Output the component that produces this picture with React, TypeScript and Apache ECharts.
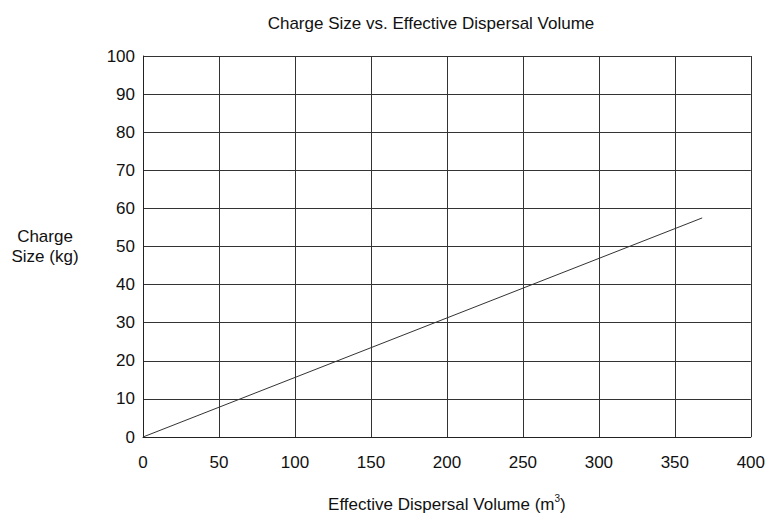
import React, { useEffect, useRef } from "react";
import * as echarts from "echarts";

const xTicks = [0, 50, 100, 150, 200, 250, 300, 350, 400];
const yTicks = [0, 10, 20, 30, 40, 50, 60, 70, 80, 90, 100];
const volume = [0, 368];
const charge = [0, 57.5];

const FONT = "'Liberation Sans Narrow', 'Liberation Sans', Arial, sans-serif";

export default function App() {
  const ref = useRef<HTMLDivElement>(null);
  useEffect(() => {
    const chart = echarts.init(ref.current!, null, { renderer: "svg" });
    chart.setOption({
      animation: false,
      backgroundColor: "#fff",
      title: {
        text: "Charge Size vs. Effective Dispersal Volume",
        left: 426,
        top: 10,
        textAlign: "center",
        textStyle: { fontFamily: FONT, fontWeight: "normal", fontSize: 17, color: "#111" },
      },
      grid: { left: 143, right: 13, top: 56, bottom: 78 },
      xAxis: {
        type: "value",
        min: xTicks[0],
        max: xTicks[xTicks.length - 1],
        interval: 50,
        axisLine: { show: true, lineStyle: { color: "#222", width: 1 } },
        axisTick: { show: false },
        axisLabel: { margin: 17, fontFamily: FONT, fontSize: 17, color: "#111" },
        splitLine: { show: true, lineStyle: { color: "#333", width: 1 } },
        name: "Effective Dispersal Volume (m{sup|3})",
        nameLocation: "middle",
        nameGap: 56,
        nameTextStyle: {
          fontFamily: FONT,
          fontSize: 17,
          color: "#111",
          rich: { sup: { fontFamily: FONT, fontSize: 10, color: "#111", padding: [0, 0, 13, 0] } },
        },
      },
      yAxis: {
        type: "value",
        min: yTicks[0],
        max: yTicks[yTicks.length - 1],
        interval: 10,
        axisLine: { show: true, lineStyle: { color: "#222", width: 1 } },
        axisTick: { show: false },
        axisLabel: { margin: 8, fontFamily: FONT, fontSize: 17, color: "#111" },
        splitLine: { show: true, lineStyle: { color: "#333", width: 1 } },
      },
      graphic: [
        {
          type: "text",
          x: 45,
          y: 226,
          style: {
            text: "Charge\nSize (kg)",
            fontFamily: FONT,
            fontSize: 17,
            fill: "#111",
            align: "center",
            lineHeight: 20,
          },
        },
      ],
      series: [
        {
          type: "line",
          data: volume.map((v, i) => [v, charge[i]]),
          showSymbol: false,
          lineStyle: { color: "#333", width: 1 },
        },
      ],
    });
    return () => chart.dispose();
  }, []);
  return (
    <div
      ref={ref}
      style={{ position: "absolute", left: 0, top: 0, width: 768, height: 518 }}
    />
  );
}
